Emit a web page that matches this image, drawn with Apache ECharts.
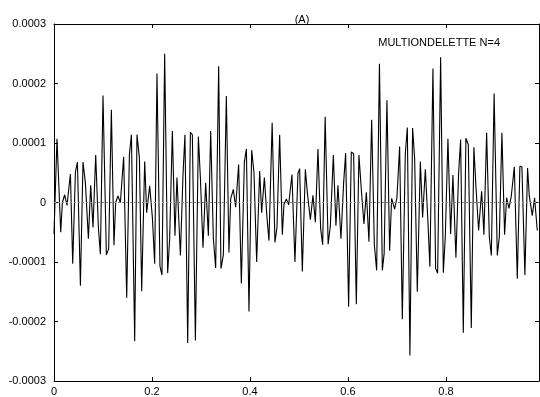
<!DOCTYPE html>
<html>
<head>
<meta charset="utf-8">
<script src="https://cdn.jsdelivr.net/npm/echarts@6/dist/echarts.min.js"></script>
<style>html,body{margin:0;padding:0;background:#fff}#c{width:540px;height:397px}</style>
</head>
<body>
<div id="c"></div>
<script>
// x positions (data units) of the signal's vertices
const xs = [0.000,0.0061,0.0137,0.0171,0.0218,0.0265,0.0335,0.0382,0.0437,0.0478,
0.0539,0.0592,0.0641,0.0702,0.0749,0.0796,0.0851,0.0906,0.0947,0.1000,
0.1069,0.1116,0.1171,0.1224,0.1259,0.1306,0.1355,0.1422,0.1484,0.1539,
0.1580,0.1647,0.1694,0.1743,0.1790,0.1851,0.1892,0.1953,0.2008,0.2055,
0.2102,0.2163,0.2204,0.2259,0.2320,0.2361,0.2416,0.2469,0.2510,0.2580,
0.2633,0.2673,0.2729,0.2784,0.2824,0.2886,0.2947,0.2988,0.3041,0.3096,
0.3151,0.3198,0.3253,0.3300,0.3361,0.3408,0.3457,0.3518,0.3571,0.3606,
0.3661,0.3708,0.3769,0.3824,0.3886,0.3927,0.3980,0.4035,0.4082,0.4137,
0.4198,0.4239,0.4294,0.4347,0.4388,0.4453,0.4510,0.4551,0.4606,0.4661,
0.4694,0.4743,0.4790,0.4857,0.4918,0.4980,0.5014,0.5069,0.5131,0.5171,
0.5233,0.5286,0.5335,0.5388,0.5443,0.5484,0.5535,0.5596,0.5641,0.5702,
0.5755,0.5796,0.5857,0.5912,0.5953,0.6014,0.6069,0.6116,0.6171,0.6224,
0.6273,0.6327,0.6376,0.6429,0.6484,0.6539,0.6586,0.6643,0.6702,0.6739,
0.6796,0.6851,0.6892,0.6953,0.7000,0.7055,0.7110,0.7171,0.7212,0.7265,
0.7320,0.7361,0.7416,0.7478,0.7524,0.7580,0.7633,0.7673,0.7735,0.7790,
0.7831,0.7892,0.7947,0.7988,0.8041,0.8096,0.8143,0.8204,0.8259,0.8300,
0.8355,0.8408,0.8457,0.8518,0.8571,0.8612,0.8667,0.8729,0.8776,0.8831,
0.8886,0.8927,0.8984,0.9049,0.9090,0.9143,0.9198,0.9239,0.9286,0.9335,
0.9396,0.9457,0.9510,0.9551,0.9612,0.9667,0.9702,0.9763,0.9810,0.9865];

// signal values at those positions
const ys = [-0.53e-4,1.07e-4,-0.50e-4,0.00e-4,0.13e-4,-0.05e-4,0.48e-4,-1.03e-4,0.51e-4,0.68e-4,
-1.40e-4,0.68e-4,0.33e-4,-0.61e-4,0.29e-4,-0.42e-4,0.80e-4,-0.42e-4,-0.87e-4,1.80e-4,
-0.88e-4,-0.78e-4,1.56e-4,-0.72e-4,0.00e-4,0.11e-4,0.00e-4,0.77e-4,-1.60e-4,0.80e-4,
1.14e-4,-2.33e-4,1.14e-4,0.75e-4,-1.49e-4,0.69e-4,-0.17e-4,0.28e-4,-0.25e-4,-1.03e-4,
2.17e-4,-1.07e-4,-1.22e-4,2.50e-4,-1.19e-4,-0.61e-4,1.20e-4,-0.56e-4,0.42e-4,-0.89e-4,
0.46e-4,1.14e-4,-2.36e-4,1.18e-4,1.14e-4,-2.32e-4,1.11e-4,0.42e-4,-0.76e-4,0.33e-4,
-0.56e-4,1.20e-4,-0.61e-4,-1.10e-4,2.29e-4,-1.11e-4,-0.88e-4,1.79e-4,-0.84e-4,0.06e-4,
0.22e-4,-0.08e-4,0.64e-4,-1.36e-4,0.68e-4,0.90e-4,-1.83e-4,0.88e-4,0.50e-4,-1.00e-4,
0.53e-4,-0.17e-4,0.42e-4,-0.25e-4,-0.64e-4,1.34e-4,-0.67e-4,-0.42e-4,1.14e-4,-0.54e-4,
-0.03e-4,0.06e-4,-0.04e-4,0.47e-4,-1.00e-4,0.49e-4,0.57e-4,-1.16e-4,0.56e-4,0.17e-4,
-0.29e-4,0.12e-4,-0.33e-4,0.90e-4,-0.44e-4,-0.71e-4,1.44e-4,-0.70e-4,-0.39e-4,0.80e-4,
-0.39e-4,0.29e-4,-0.61e-4,0.33e-4,0.83e-4,-1.75e-4,0.85e-4,0.82e-4,-1.71e-4,0.80e-4,
0.22e-4,-0.36e-4,0.17e-4,-0.66e-4,1.39e-4,-0.71e-4,-1.14e-4,2.33e-4,-1.14e-4,-0.86e-4,
1.72e-4,-0.81e-4,0.07e-4,-0.11e-4,0.08e-4,0.94e-4,-1.96e-4,0.82e-4,1.26e-4,-2.57e-4,
1.25e-4,0.75e-4,-1.50e-4,0.69e-4,-0.25e-4,0.56e-4,-0.33e-4,-1.08e-4,2.25e-4,-1.11e-4,
-1.19e-4,2.44e-4,-1.18e-4,-0.56e-4,1.07e-4,-0.53e-4,0.46e-4,-0.93e-4,0.49e-4,1.06e-4,
-2.19e-4,1.08e-4,0.97e-4,-2.11e-4,0.93e-4,0.28e-4,-0.47e-4,0.19e-4,-0.54e-4,1.17e-4,
-0.58e-4,-0.89e-4,1.83e-4,-0.89e-4,-0.58e-4,1.17e-4,-0.54e-4,0.08e-4,-0.10e-4,0.11e-4,
0.60e-4,-1.28e-4,0.61e-4,0.60e-4,-1.22e-4,0.58e-4,0.11e-4,-0.22e-4,0.08e-4,-0.47e-4];

const xTicks = [0, 0.2, 0.4, 0.6, 0.8];
const yTicks = [-0.0003, -0.0002, -0.0001, 0, 0.0001, 0.0002, 0.0003];
const titleText = '(A)';
const labelText = 'MULTIONDELETTE N=4';

const FONT = '"Liberation Sans", Arial, Helvetica, sans-serif';
const chart = echarts.init(document.getElementById('c'), null, {renderer: 'canvas'});

const fmtY = v => Math.abs(v) < 1e-12 ? '0' : v.toFixed(4);
const fmtX = v => Math.abs(v) < 1e-12 ? '0' : String(+v.toFixed(1));

const axisCommon = {
  type: 'value',
  axisLine: {show: true, onZero: false, lineStyle: {color: '#000', width: 1}},
  axisTick: {show: true, inside: true, length: 4, lineStyle: {color: '#000'}},
  splitLine: {show: false}
};

chart.setOption({
  animation: false,
  backgroundColor: '#fff',
  grid: {left: 54, right: 1, top: 24, bottom: 15, containLabel: false},
  title: {
    text: titleText, left: 297, top: 9, textAlign: 'center',
    textStyle: {fontFamily: FONT, fontSize: 11, fontWeight: 'normal', color: '#000'}
  },
  graphic: [{
    type: 'text', right: 40, top: 37,
    style: {text: labelText, font: '11px ' + FONT, fill: '#000'}
  }],
  xAxis: [
    Object.assign({}, axisCommon, {
      position: 'bottom', min: xTicks[0], max: 0.99, interval: 0.2,
      axisLabel: {show: true, margin: 5, color: '#000', fontFamily: FONT, fontSize: 11,
        formatter: fmtX, showMaxLabel: false}
    }),
    Object.assign({}, axisCommon, {
      position: 'top', min: xTicks[0], max: 0.99, interval: 0.2,
      axisLabel: {show: false}
    })
  ],
  yAxis: [
    Object.assign({}, axisCommon, {
      position: 'left', min: yTicks[0], max: yTicks[yTicks.length - 1], interval: 0.0001,
      axisLabel: {show: true, margin: 8, color: '#000', fontFamily: FONT, fontSize: 11, formatter: fmtY}
    }),
    Object.assign({}, axisCommon, {
      position: 'right', min: yTicks[0], max: yTicks[yTicks.length - 1], interval: 0.0001,
      axisLabel: {show: false}
    })
  ],
  series: [{
    type: 'line',
    xAxisIndex: 0, yAxisIndex: 0,
    data: xs.map((x, i) => [x, ys[i]]),
    showSymbol: false,
    symbol: 'none',
    lineStyle: {color: '#000', width: 1.1},
    clip: true,
    markLine: {
      silent: true, symbol: 'none', label: {show: false},
      lineStyle: {color: '#888', type: [2, 2], width: 1},
      data: [{yAxis: 0}]
    }
  }]
});
</script>
</body>
</html>
